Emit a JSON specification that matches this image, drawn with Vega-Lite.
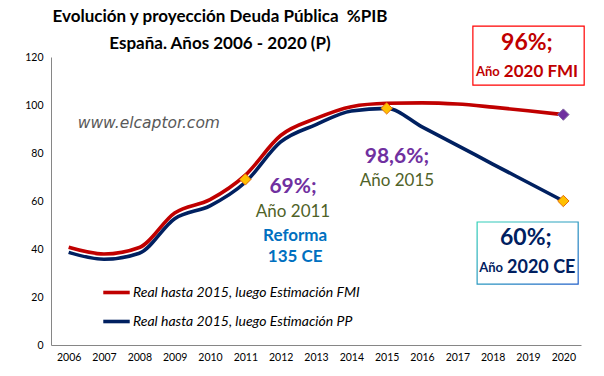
{
  "$schema": "https://vega.github.io/schema/vega-lite/v6.json",
  "width": 530,
  "height": 288,
  "autosize": {"type": "none"},
  "padding": {"left": 51, "top": 57, "right": 23, "bottom": 31},
  "background": "white",
  "config": {"view": {"stroke": null}, "font": "Lato"},
  "title": {
    "text": ["Evolución y proyección Deuda Pública \u00a0%PIB", "España. Años 2006 - 2020 (P)"],
    "font": "Lato",
    "fontSize": 17,
    "fontWeight": "bold",
    "color": "black",
    "anchor": "middle",
    "frame": "group",
    "dx": -96,
    "dy": 32,
    "lineHeight": 27,
    "offset": 4
  },
  "datasets": {
    "series": [
      {"year": 2006, "value": 40.7, "serie": "Real hasta 2015, luego Estimación FMI"},
      {"year": 2007, "value": 37.9, "serie": "Real hasta 2015, luego Estimación FMI"},
      {"year": 2008, "value": 40.6, "serie": "Real hasta 2015, luego Estimación FMI"},
      {"year": 2009, "value": 55.0, "serie": "Real hasta 2015, luego Estimación FMI"},
      {"year": 2010, "value": 60.6, "serie": "Real hasta 2015, luego Estimación FMI"},
      {"year": 2011, "value": 70.8, "serie": "Real hasta 2015, luego Estimación FMI"},
      {"year": 2012, "value": 87.3, "serie": "Real hasta 2015, luego Estimación FMI"},
      {"year": 2013, "value": 94.4, "serie": "Real hasta 2015, luego Estimación FMI"},
      {"year": 2014, "value": 99.3, "serie": "Real hasta 2015, luego Estimación FMI"},
      {"year": 2015, "value": 100.7, "serie": "Real hasta 2015, luego Estimación FMI"},
      {"year": 2016, "value": 100.9, "serie": "Real hasta 2015, luego Estimación FMI"},
      {"year": 2017, "value": 100.4, "serie": "Real hasta 2015, luego Estimación FMI"},
      {"year": 2018, "value": 99.1, "serie": "Real hasta 2015, luego Estimación FMI"},
      {"year": 2019, "value": 97.6, "serie": "Real hasta 2015, luego Estimación FMI"},
      {"year": 2020, "value": 96.0, "serie": "Real hasta 2015, luego Estimación FMI"},
      {"year": 2006, "value": 38.6, "serie": "Real hasta 2015, luego Estimación PP"},
      {"year": 2007, "value": 35.7, "serie": "Real hasta 2015, luego Estimación PP"},
      {"year": 2008, "value": 38.2, "serie": "Real hasta 2015, luego Estimación PP"},
      {"year": 2009, "value": 52.6, "serie": "Real hasta 2015, luego Estimación PP"},
      {"year": 2010, "value": 58.0, "serie": "Real hasta 2015, luego Estimación PP"},
      {"year": 2011, "value": 67.8, "serie": "Real hasta 2015, luego Estimación PP"},
      {"year": 2012, "value": 84.6, "serie": "Real hasta 2015, luego Estimación PP"},
      {"year": 2013, "value": 91.8, "serie": "Real hasta 2015, luego Estimación PP"},
      {"year": 2014, "value": 97.5, "serie": "Real hasta 2015, luego Estimación PP"},
      {"year": 2015, "value": 98.6, "serie": "Real hasta 2015, luego Estimación PP"},
      {"year": 2016, "value": 90.9, "serie": "Real hasta 2015, luego Estimación PP"},
      {"year": 2017, "value": 83.2, "serie": "Real hasta 2015, luego Estimación PP"},
      {"year": 2018, "value": 75.4, "serie": "Real hasta 2015, luego Estimación PP"},
      {"year": 2019, "value": 67.7, "serie": "Real hasta 2015, luego Estimación PP"},
      {"year": 2020, "value": 60.0, "serie": "Real hasta 2015, luego Estimación PP"}
    ]
  },
  "encoding": {
    "x": {
      "field": "year",
      "type": "quantitative",
      "scale": {"domain": [2005.5, 2020.5], "nice": false, "zero": false},
      "axis": {
        "title": null,
        "values": [2006, 2007, 2008, 2009, 2010, 2011, 2012, 2013, 2014, 2015, 2016, 2017, 2018, 2019, 2020],
        "format": "d",
        "grid": false,
        "ticks": false,
        "labelOverlap": false,
        "labelFlush": false,
        "labelFont": "Lato",
        "labelFontSize": 10.5,
        "labelColor": "black",
        "labelPadding": 7,
        "domainColor": "#868686",
        "domainWidth": 1
      }
    },
    "y": {
      "field": "value",
      "type": "quantitative",
      "scale": {"domain": [0, 120], "nice": false},
      "axis": {
        "title": null,
        "values": [0, 20, 40, 60, 80, 100, 120],
        "grid": false,
        "ticks": false,
        "labelFont": "Lato",
        "labelFontSize": 10.5,
        "labelColor": "black",
        "labelPadding": 8,
        "domainColor": "#868686",
        "domainWidth": 1
      }
    }
  },
  "layer": [
    {
      "data": {"values": [{"year": 2017.44, "value": 132.9, "year2": 2020.59, "value2": 108.3}]},
      "mark": {"type": "rect", "fill": "white", "stroke": "#FF0000", "strokeWidth": 1.2},
      "encoding": {"x2": {"field": "year2"}, "y2": {"field": "value2"}}
    },
    {
      "data": {"values": [{"year": 2017.56, "value": 51.25, "year2": 2020.42, "value2": 25.4}]},
      "mark": {
        "type": "rect",
        "fill": "white",
        "strokeWidth": 1.2,
        "stroke": {"gradient": "linear", "x1": 0, "y1": 0, "x2": 1, "y2": 1, "stops": [{"offset": 0, "color": "#33D1B8"}, {"offset": 1, "color": "#1F5FC8"}]}
      },
      "encoding": {"x2": {"field": "year2"}, "y2": {"field": "value2"}}
    },
    {
      "data": {"name": "series"},
      "mark": {"type": "line", "interpolate": "monotone", "color": "white", "strokeWidth": 6.5},
      "encoding": {"detail": {"field": "serie"}}
    },
    {
      "data": {"name": "series"},
      "mark": {"type": "line", "interpolate": "monotone", "strokeWidth": 3.6},
      "encoding": {
        "color": {
          "field": "serie",
          "type": "nominal",
          "scale": {
            "domain": ["Real hasta 2015, luego Estimación FMI", "Real hasta 2015, luego Estimación PP"],
            "range": ["#C00000", "#002060"]
          },
          "legend": {
            "orient": "none",
            "legendX": 50,
            "legendY": 220,
            "title": null,
            "padding": 0,
            "symbolType": "stroke",
            "symbolSize": 700,
            "symbolStrokeWidth": 3.6,
            "labelFont": "Lato",
            "labelFontStyle": "italic",
            "labelFontSize": 14,
            "labelColor": "black",
            "labelOffset": 1,
            "rowPadding": 6,
            "labelLimit": 400
          }
        }
      }
    },
    {
      "data": {"values": [{"year": 2011, "value": 69}, {"year": 2015, "value": 98.6}, {"year": 2020, "value": 60}]},
      "mark": {"type": "point", "shape": "diamond", "filled": true, "size": 130, "fill": "#FFC000", "stroke": "#E46C0A", "strokeWidth": 1, "opacity": 1}
    },
    {
      "data": {"values": [{"year": 2020, "value": 96}]},
      "mark": {"type": "point", "shape": "diamond", "filled": true, "size": 130, "fill": "#7030A0", "stroke": "#8064A2", "strokeWidth": 1, "opacity": 1}
    },
    {
      "data": {"values": [{"year": 2008.27, "value": 92.4, "label": "www.elcaptor.com"}]},
      "mark": {"type": "text", "font": "DejaVu Sans", "fontStyle": "italic", "fontSize": 15.5, "color": "#595959", "baseline": "middle"},
      "encoding": {"text": {"field": "label"}}
    },
    {
      "data": {"values": [{"year": 2012.35, "value": 66, "label": "69%;"}, {"year": 2015.29, "value": 78.5, "label": "98,6%;"}]},
      "mark": {"type": "text", "font": "Lato", "fontWeight": "bold", "fontSize": 21, "color": "#7030A0", "baseline": "middle"},
      "encoding": {"text": {"field": "label"}}
    },
    {
      "data": {"values": [{"year": 2012.35, "value": 55.4, "label": "Año 2011"}, {"year": 2015.29, "value": 68.3, "label": "Año 2015"}]},
      "mark": {"type": "text", "font": "Lato", "fontSize": 17, "color": "#4F6228", "baseline": "middle"},
      "encoding": {"text": {"field": "label"}}
    },
    {
      "data": {"values": [{"year": 2012.41, "value": 45.4, "label": "Reforma"}, {"year": 2012.41, "value": 36.5, "label": "135 CE"}]},
      "mark": {"type": "text", "font": "Lato", "fontWeight": "bold", "fontSize": 17, "color": "#0070C0", "baseline": "middle"},
      "encoding": {"text": {"field": "label"}}
    },
    {
      "data": {"values": [{"year": 2018.97, "value": 125.7, "label": "96%;"}]},
      "mark": {"type": "text", "font": "Lato", "fontWeight": "bold", "fontSize": 23, "color": "#C00000", "baseline": "middle"},
      "encoding": {"text": {"field": "label"}}
    },
    {
      "data": {"values": [{"year": 2018.26, "value": 113.9, "label": "Año"}]},
      "mark": {"type": "text", "font": "Lato", "fontWeight": "bold", "fontSize": 13, "color": "#C00000", "baseline": "middle", "align": "right", "dx": -2},
      "encoding": {"text": {"field": "label"}}
    },
    {
      "data": {"values": [{"year": 2018.26, "value": 113.9, "label": "2020 FMI"}]},
      "mark": {"type": "text", "font": "Lato", "fontWeight": "bold", "fontSize": 17, "color": "#C00000", "baseline": "middle", "align": "left", "dx": 2},
      "encoding": {"text": {"field": "label"}}
    },
    {
      "data": {"values": [{"year": 2018.94, "value": 44.4, "label": "60%;"}]},
      "mark": {"type": "text", "font": "Lato", "fontWeight": "bold", "fontSize": 23, "color": "#002060", "baseline": "middle"},
      "encoding": {"text": {"field": "label"}}
    },
    {
      "data": {"values": [{"year": 2018.35, "value": 31.9, "label": "Año"}]},
      "mark": {"type": "text", "font": "Lato", "fontWeight": "bold", "fontSize": 13, "color": "#002060", "baseline": "middle", "align": "right", "dx": -2},
      "encoding": {"text": {"field": "label"}}
    },
    {
      "data": {"values": [{"year": 2018.35, "value": 31.9, "label": "2020 CE"}]},
      "mark": {"type": "text", "font": "Lato", "fontWeight": "bold", "fontSize": 18, "color": "#002060", "baseline": "middle", "align": "left", "dx": 2},
      "encoding": {"text": {"field": "label"}}
    }
  ]
}
